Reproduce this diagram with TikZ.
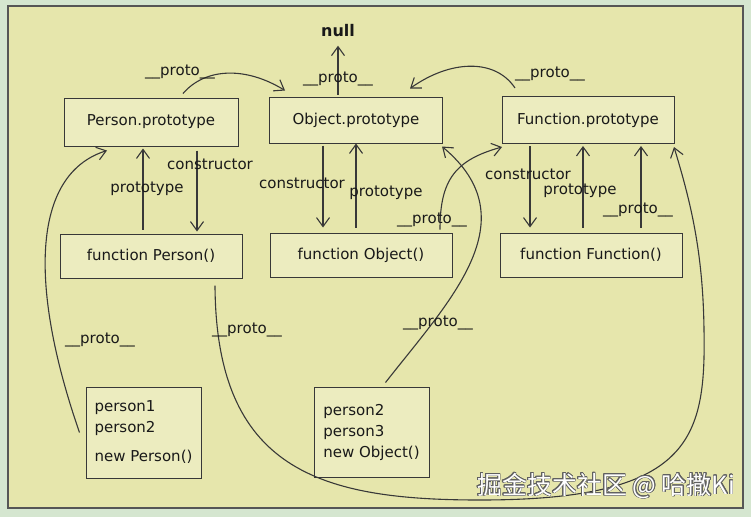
\documentclass[tikz,border=0pt]{standalone}
\usepackage{fontspec}
\setmainfont{DejaVu Sans}
\newfontfamily\cjkfont{Noto Sans CJK SC}
\usepackage[copies]{contour}
\contourlength{0.7pt}
\usetikzlibrary{arrows.meta, positioning, calc}
\definecolor{bgGreen}{HTML}{D5E6D0}
\definecolor{paper}{HTML}{E6E6AC}
\definecolor{boxFill}{HTML}{ECECBF}
\definecolor{ink}{HTML}{383838}
\tikzset{
  block/.style={rectangle, draw=ink, fill=boxFill, line width=1pt,
                minimum width=174pt, minimum height=46pt, inner sep=0pt},
  blockI/.style={block, minimum width=115pt, minimum height=91pt, align=left},
  arrow/.style={-{Straight Barb[length=9pt, width=13pt]}, line width=1.1pt, draw=ink},
  lbl/.style={inner sep=1pt},
}

\begin{document}
\begin{tikzpicture}[x=1pt, y=-1pt, font=\fontsize{15}{21}\selectfont, text=black!90]

  % page and paper
  \fill[bgGreen] (0,0) rectangle (751,517);
  \useasboundingbox (0,0) rectangle (751,517);
  \draw[fill=paper, draw=ink!85, line width=1.6pt] (8,6) rectangle (743,508);

  % prototypes
  \node[block, minimum height=48pt] (pp) at (151,122) {Person.prototype};
  \node[block, minimum width=173pt] (op) at (356,120) {Object.prototype};
  \node[block, minimum width=172pt, minimum height=47pt] (fp) at (588,120) {Function.prototype};
  \node[font=\fontsize{16}{20}\selectfont\bfseries] (null) at (338,31) {null};

  % constructors
  \node[block, minimum width=182pt, minimum height=44pt] (fperson)   at (151,256) {function Person()};
  \node[block, minimum width=182pt, minimum height=44pt] (fobject)   at (361,255) {function Object()};
  \node[block, minimum width=182pt, minimum height=44pt] (ffunction) at (591,255) {function Function()};

  % instances
  \node[blockI] (inst1) at (143.5,432.5) {person1\\person2\\[8pt]new Person()};
  \node[blockI, minimum height=90pt] (inst2) at (371.5,432) {person2\\person3\\new Object()};

  % prototype / constructor pairs
  \draw[arrow] ([xshift=-8pt,yshift=4pt]fperson.north) -- node[lbl, midway, xshift=4pt]{prototype} ([xshift=-8pt,yshift=-2pt]pp.south);
  \draw[arrow] ([xshift=46pt,yshift=-4pt]pp.south) -- node[lbl, pos=0.17, xshift=13pt]{constructor} ([xshift=46pt,yshift=2pt]fperson.north);
  \draw[arrow] ([xshift=-33pt,yshift=-2pt]op.south) -- node[lbl, pos=0.46, xshift=-21pt]{constructor} ([xshift=-38pt,yshift=5pt]fobject.north);
  \draw[arrow] ([xshift=-5pt,yshift=5pt]fobject.north) -- node[lbl, pos=0.41, xshift=30pt]{prototype} (op.south);
  \draw[arrow] ([xshift=-58pt,yshift=-2pt]fp.south) -- node[lbl, pos=0.35, xshift=-2pt]{constructor} ([xshift=-61pt,yshift=5pt]ffunction.north);
  \draw[arrow] ([xshift=-8pt,yshift=5pt]ffunction.north) -- node[lbl, pos=0.45, xshift=-3pt]{prototype} ([xshift=-5pt,yshift=-2pt]fp.south);
  \draw[arrow] ([xshift=50pt,yshift=5pt]ffunction.north) -- node[lbl, pos=0.22, xshift=-3pt]{\_\_proto\_\_} ([xshift=53pt,yshift=-2pt]fp.south);

  % __proto__ chain
  \draw[arrow] ([xshift=-18pt,yshift=2pt]op.north) -- node[lbl, pos=0.32]{\_\_proto\_\_} ([yshift=-5pt]null.south);
  \draw[arrow] ([xshift=32pt,yshift=4pt]pp.north) .. controls (205,68) and (245,66) .. ([xshift=-71pt,yshift=6pt]op.north);
  \node[lbl] (lblPP) at (180,72) {\_\_proto\_\_};
  \draw[arrow] ([xshift=-73pt,yshift=8pt]fp.north) .. controls (495,58) and (450,60) .. ([xshift=54pt,yshift=8pt]op.north);
  \node[lbl] (lblFP) at (550,74) {\_\_proto\_\_};
  \draw[arrow] ([xshift=79pt,yshift=3pt]fobject.north) .. controls (440,180) and (455,160) .. ([xshift=-86pt,yshift=-3pt]fp.south);
  \node[lbl] (lblFO) at (432,220) {\_\_proto\_\_};

  % instances to prototypes
  \draw[arrow] ([xshift=-6pt]inst1.west) .. controls (30,290) and (30,175) .. ([xshift=-44pt,yshift=-4pt]pp.south);
  \node[lbl] (lblI1) at (100,340) {\_\_proto\_\_};
  \draw[arrow] ([xshift=14pt,yshift=4pt]inst2.north) .. controls (450,300) and (530,220) .. ([xshift=86pt,yshift=-3pt]op.south);
  \node[lbl] (lblI2) at (438,323) {\_\_proto\_\_};

  % function Person() to Function.prototype
  \draw[arrow] ([xshift=64pt,yshift=-7pt]fperson.south) .. controls (216,470) and (320,500) .. (480,500)
    .. controls (690,500) and (706,440) .. (704,330)
    .. controls (703,250) and (690,200) .. ([xshift=86pt,yshift=-3pt]fp.south);
  \node[lbl] (lblFF) at (247,330) {\_\_proto\_\_};

  % watermark
  \node (mark) at (606,486) {\cjkfont\fontsize{25}{28}\selectfont\contour{ink!80}{\textcolor{white}{掘金技术社区 @ 哈撒Ki}}};

\end{tikzpicture}
\end{document}
